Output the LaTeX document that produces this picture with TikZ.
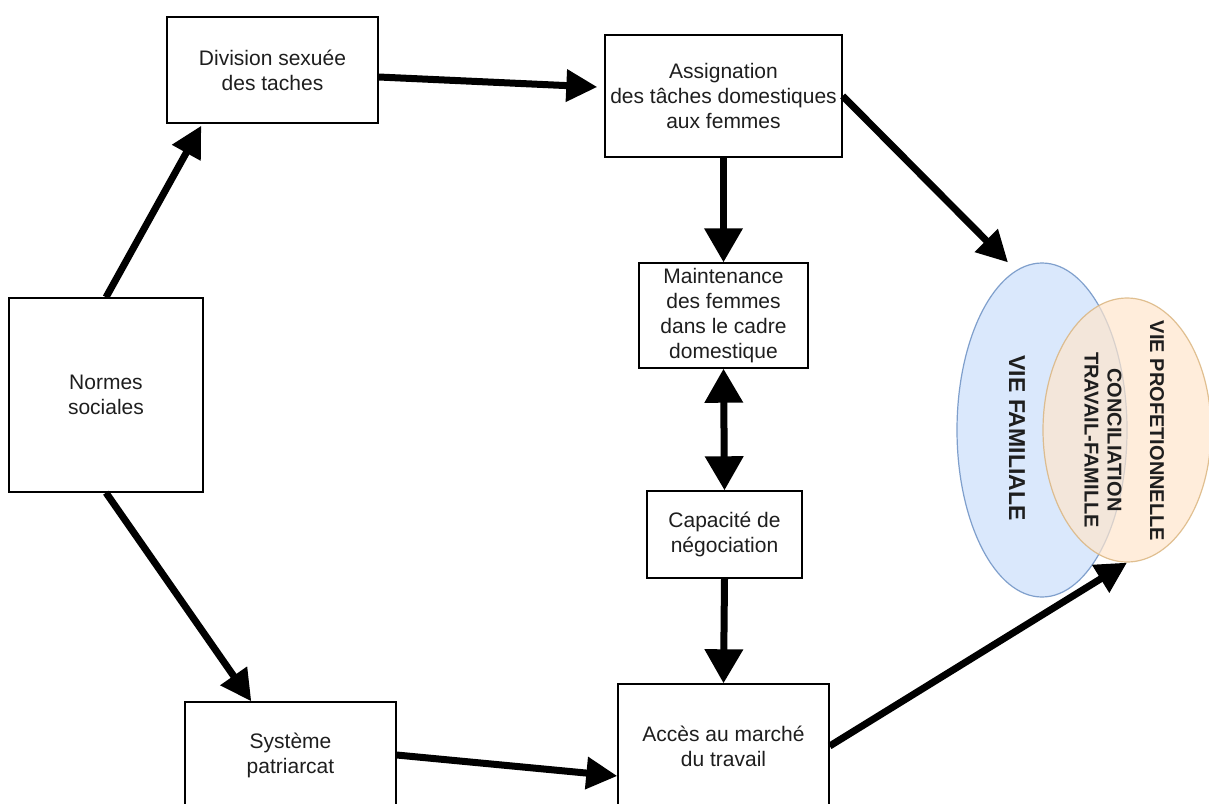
\documentclass[tikz,border=0pt]{standalone}
\usepackage{fontspec}
\setmainfont{Liberation Sans}
\usetikzlibrary{arrows.meta,shapes.geometric}
\definecolor{txt}{HTML}{1E1E1E}
\definecolor{bluefill}{HTML}{DAE8FC}
\definecolor{bluedraw}{HTML}{7F9FCC}
\definecolor{orfill}{HTML}{FFE6CC}
\definecolor{ordraw}{HTML}{D9B27A}
\tikzset{
  box/.style={draw=black, line width=1.4pt, fill=white, align=center, text=txt,
    inner sep=0pt, font=\fontsize{21}{25}\selectfont},
  arr/.style={line width=7pt, draw=black, -{Triangle[length=31pt,width=31pt]}},
  varr/.style={line width=7pt, draw=black, -{Triangle[length=34pt,width=37pt]}},
  dvarr/.style={line width=7pt, draw=black, {Triangle[length=34pt,width=37pt]}-{Triangle[length=34pt,width=37pt]}},
  venn/.style={ellipse, inner sep=0pt, line width=1.2pt},
  vlab/.style={rotate=-90, align=center, text=txt, font=\bfseries\fontsize{20}{23}\selectfont}
}
\begin{document}
\begin{tikzpicture}[x=1pt,y=-1pt]
\useasboundingbox[fill=white] (0,0) rectangle (1209,803);
% boxes
\node[box, minimum width=211pt, minimum height=106pt] (div) at (272.5,70) {Division sexuée\\des taches};
\node[box, minimum width=237pt, minimum height=122pt] (assig) at (723.5,96) {Assignation\\des tâches domestiques\\aux femmes};
\node[box, minimum width=169pt, minimum height=105pt] (maint) at (723.5,315.5) {Maintenance\\des femmes\\dans le cadre\\domestique};
\node[box, minimum width=155pt, minimum height=87pt] (cap) at (724.5,534.5) {Capacité de\\négociation};
\node[box, minimum width=211pt, minimum height=124pt] (acc) at (723.5,746) {Accès au marché\\du travail};
\node[box, minimum width=211pt, minimum height=106pt] (sys) at (290.5,755) {Système\\patriarcat};
\node[box, minimum width=194pt, minimum height=194pt] (norm) at (106,395) {Normes\\sociales};
% venn
\node[venn, draw=bluedraw, fill=bluefill, minimum width=170pt, minimum height=334pt] (blue) at (1042,430) {};
\node[venn, draw=ordraw, draw opacity=0.8, fill=orfill, fill opacity=0.7, minimum width=168pt, minimum height=264pt] (orange) at (1127,430) {};
\node[vlab, font=\bfseries\fontsize{23}{26}\selectfont] (vf) at (1017,438) {VIE FAMILIALE};
\node[vlab] (conc) at (1103,440) {CONCILIATION\\TRAVAIL-FAMILLE};
\node[vlab] (vp) at (1157,431) {VIE PROFETIONNELLE};
% arrows
\draw[arr] (norm.north) -- ([xshift=35pt,yshift=-2pt]div.south west);
\draw[arr] (norm.south) -- ([xshift=67pt]sys.north west);
\draw[arr] ([yshift=-7pt]div.east) -- ([xshift=-7pt,yshift=9pt]assig.west);
\draw[varr] (assig.south) -- (maint.north);
\draw[dvarr] (maint.south) -- (cap.north);
\draw[varr] (cap.south) -- (acc.north);
\draw[arr] (sys.east) -- ([yshift=-30pt]acc.west);
\draw[arr] (acc.east) -- (orange.south);
\draw[arr] (assig.east) -- ([xshift=-34pt]blue.north);
\end{tikzpicture}
\end{document}
